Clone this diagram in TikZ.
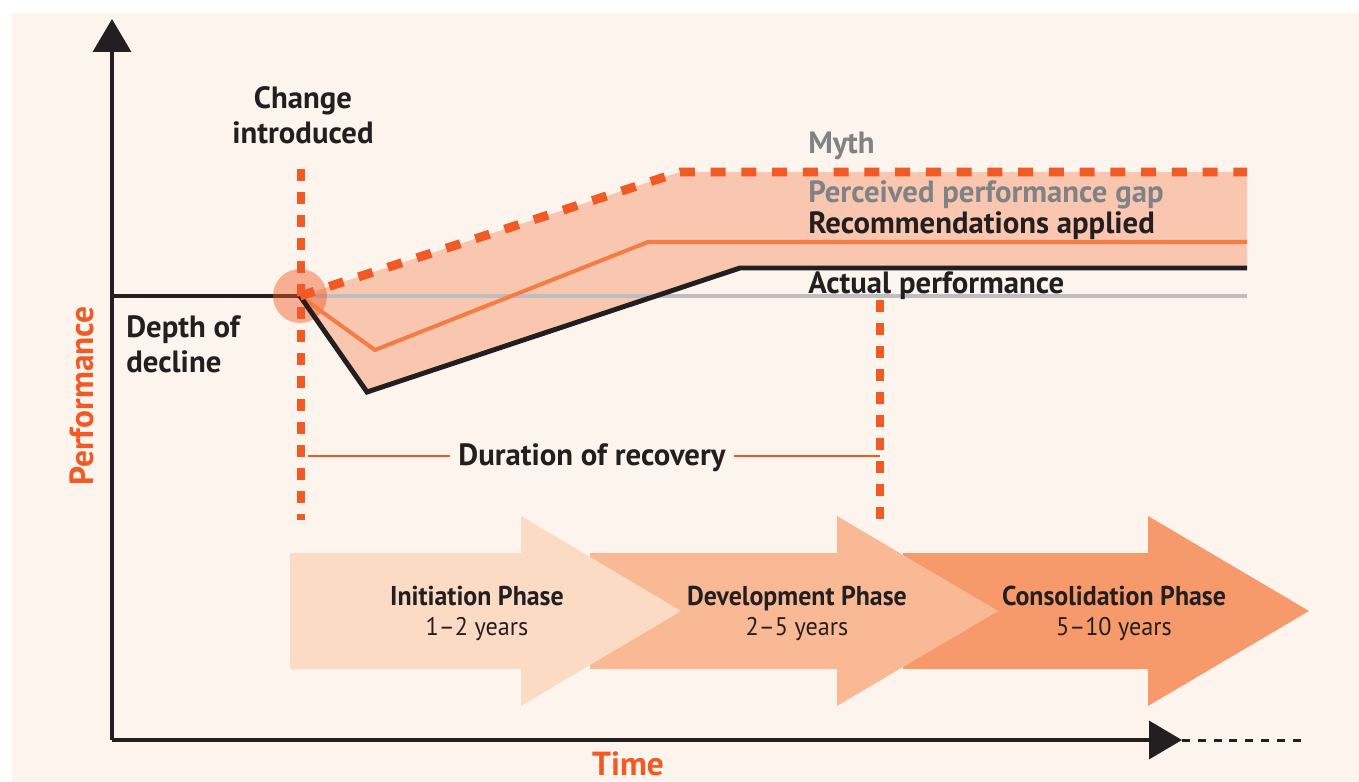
\documentclass[tikz,border=0pt]{standalone}
\usepackage{fontspec}
\setmainfont{PT Sans}
\newfontfamily\narrowfont[FakeStretch=0.95]{PT Sans}
\usetikzlibrary{arrows.meta}

\begin{document}
\begin{tikzpicture}[x=0.02cm, y=-0.02cm,
  label/.style={font=\bfseries\fontsize{17.5}{19.9}\selectfont, text=ink, inner sep=0pt},
  axislabel/.style={font=\bfseries\fontsize{19}{22}\selectfont, text=orangedark, inner sep=0pt, anchor=base},
  phasename/.style={font=\narrowfont\bfseries\fontsize{15.5}{17}\selectfont, text=ink, inner sep=0pt, anchor=base},
  phaseyears/.style={font=\narrowfont\fontsize{14.5}{17}\selectfont, text=ink, inner sep=0pt, anchor=base},
  markline/.style={line width=5.1pt, orangedark, dash pattern=on 6.8pt off 6.3pt},
  curve/.style={line width=2.8pt, line join=miter}]

\def\size{0.54cm}
\definecolor{paper}{RGB}{253,244,238}
\definecolor{ink}{RGB}{35,31,32}
\definecolor{myth}{RGB}{128,130,133}
\definecolor{orangedark}{RGB}{241,90,36}
\definecolor{orangerec}{RGB}{244,125,68}
\definecolor{gapfill}{RGB}{249,198,176}
\definecolor{basegray}{RGB}{188,190,192}
\definecolor{initfill}{RGB}{252,219,196}
\definecolor{devfill}{RGB}{250,185,149}
\definecolor{consfill}{RGB}{246,154,107}

\useasboundingbox (0,0) rectangle (1359,781);
\fill[paper] (12,13) rectangle (1359,781);

\coordinate (origin) at (112,740);
\coordinate (ytip) at (112,19);
\coordinate (xtip) at (1182,740);
\coordinate (xend) at (1308,740);
\coordinate (start) at (112,296);
\coordinate (change) at (300,296);
\coordinate (baseend) at (1247,296);
\coordinate (mythtop) at (680,172);
\coordinate (mythend) at (1247,172);
\coordinate (reclow) at (375,350);
\coordinate (recup) at (648,242);
\coordinate (recend) at (1247,242);
\coordinate (actlow) at (367,392);
\coordinate (actup) at (740,268);
\coordinate (actend) at (1247,268);

% gap between myth and actual
\fill[gapfill] (change) -- (mythtop) -- (mythend) -- (actend) -- (actup) -- (actlow) -- cycle;

\draw[line width=2.8pt, basegray] (change) -- (baseend);
\draw[curve, ink] (start) -- (change);
\fill[orangedark, opacity=0.45] (change) circle (\size);

\draw[curve, orangerec, line width=2.3pt] (change) -- (reclow) -- (recup) -- (recend);
\draw[curve, ink] (change) -- (actlow) -- (actup) -- (actend);
\draw[line width=5.1pt, orangedark, dash pattern=on 8.5pt off 9pt] (change) -- (mythtop) -- (mythend);

% phases
\fill[consfill] (903,553) -- (1148,553) -- (1148,516) -- (1309,611) -- (1148,706) -- (1148,669) -- (903,669) -- cycle;
\fill[devfill] (590,553) -- (837,553) -- (837,516) -- (998,611) -- (837,706) -- (837,669) -- (590,669) -- cycle;
\fill[initfill] (290,553) -- (521,553) -- (521,516) -- (681,611) -- (521,706) -- (521,669) -- (290,669) -- cycle;

\node[phasename] (initname) at (477,605) {Initiation Phase};
\node[phaseyears] (inityears) at (477,635) {1–2 years};
\node[phasename] (devname) at (797,605) {Development Phase};
\node[phaseyears] (devyears) at (797,635) {2–5 years};
\node[phasename] (consname) at (1114,605) {Consolidation Phase};
\node[phaseyears] (consyears) at (1114,635) {5–10 years};

% markers
\draw[markline] (301,169) -- (301,520);
\draw[markline] (880,300) -- (880,520);

\node[label, inner xsep=4.5pt, anchor=base] (dur) at (592,465) {Duration of recovery};
\coordinate (durleft) at (308,456);
\coordinate (durright) at (880,456);
\draw[line width=1.7pt, orangedark] (durleft) -- (dur.west |- durleft);
\draw[line width=1.7pt, orangedark] (dur.east |- durright) -- (durright);

% axes
\draw[line width=2pt, ink, -{Triangle[width=0.76cm, length=0.66cm]}] (origin) -- (ytip);
\draw[line width=2pt, ink, -{Triangle[width=0.76cm, length=0.66cm]}] (origin) -- (xtip);
\draw[line width=1.7pt, ink, dash pattern=on 4.5pt off 4.5pt] (xtip) -- (xend);

\node[axislabel, rotate=90] (perf) at (93,396) {Performance};
\node[axislabel] (time) at (628,775) {Time};

\node[label, align=center, anchor=base] (changelabel) at (303,143) {Change\\introduced};
\node[label, align=left, anchor=base west] (depth) at (126,372) {Depth of\\decline};

\node[label, text=myth, anchor=base west] (mythlabel) at (808,153) {Myth};
\node[label, text=myth, anchor=base west] (gaplabel) at (808,202) {Perceived performance gap};
\node[label, anchor=base west] (reclabel) at (808,233) {Recommendations applied};
\node[label, anchor=base west] (actlabel) at (808,293) {Actual performance};

\end{tikzpicture}
\end{document}
